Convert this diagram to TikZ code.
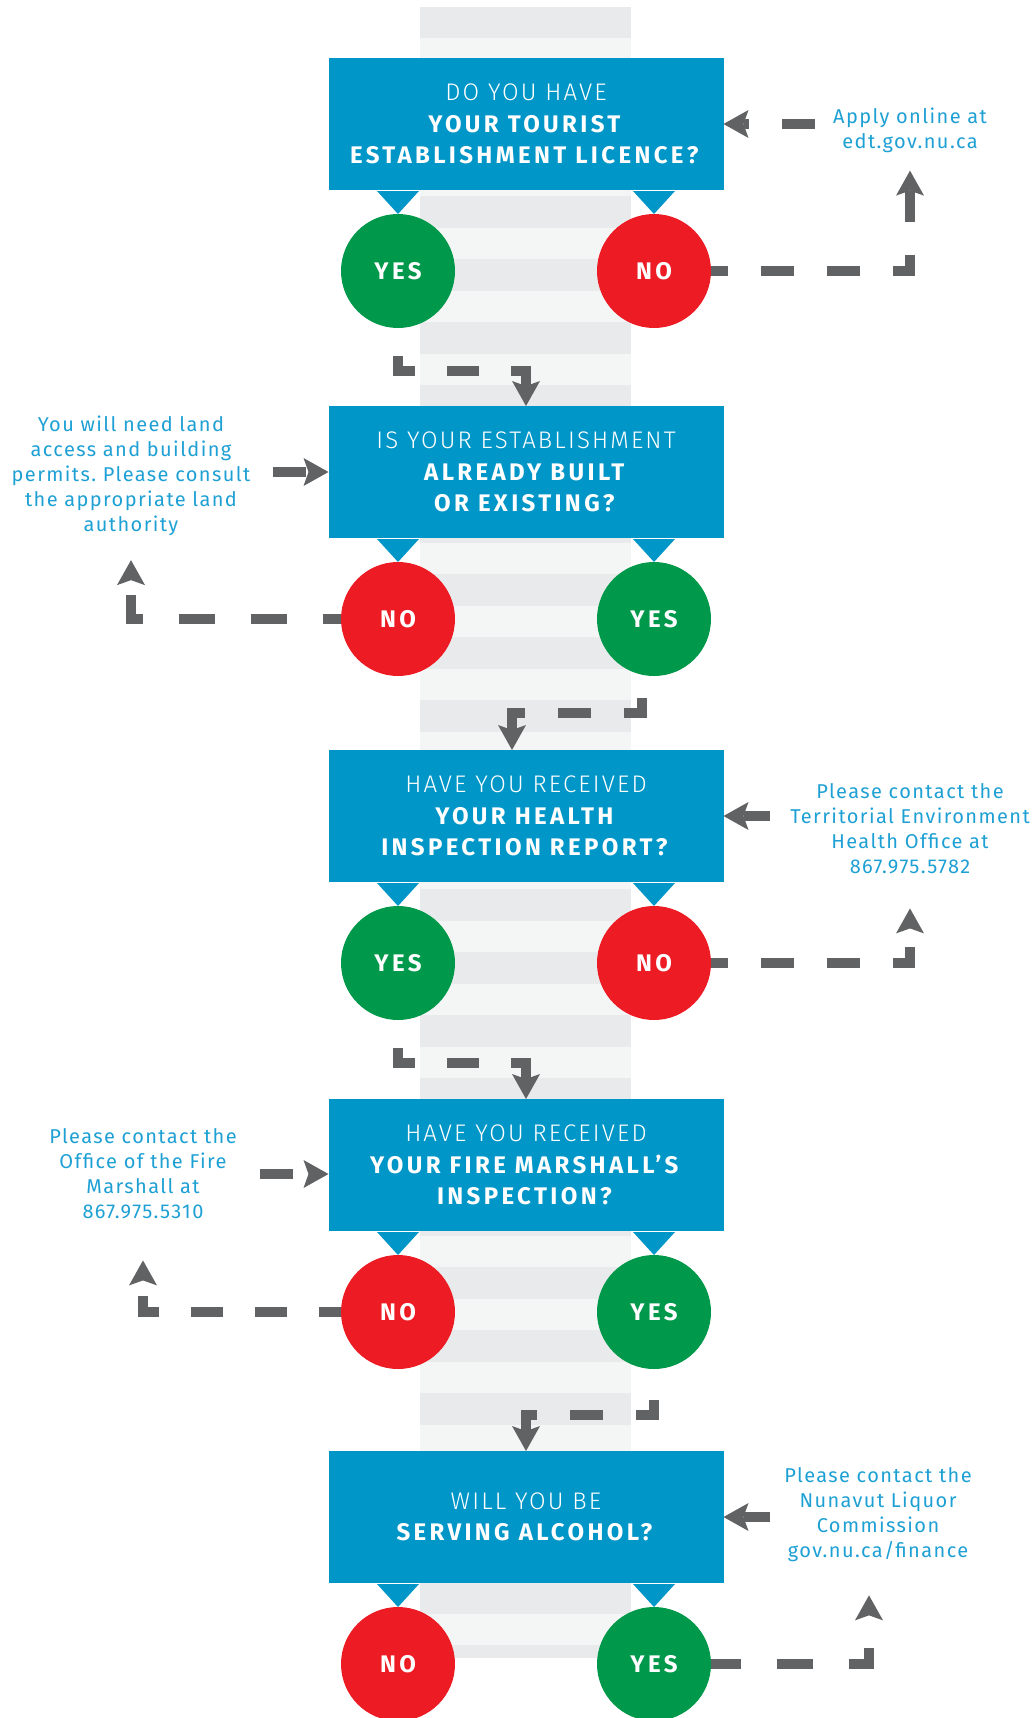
\documentclass[tikz,border=0pt]{standalone}
\usepackage{fontspec}
\setmainfont{Fira Sans}
\newfontfamily\notefont{Fira Sans}[LetterSpace=7]
\newfontfamily\headfont{Fira Sans}[LetterSpace=14]
\IfFontExistsTF{Fira Sans Light}
  {\newfontfamily\thinfont{Fira Sans Light}[LetterSpace=9]}
  {\newfontfamily\thinfont{Fira Sans}[LetterSpace=9]}
\frenchspacing
\usetikzlibrary{arrows.meta}
\definecolor{askblue}{RGB}{0,150,200}
\definecolor{yesgreen}{RGB}{0,152,74}
\definecolor{nored}{RGB}{237,28,36}
\definecolor{flowgrey}{RGB}{97,98,100}
\definecolor{noteblue}{RGB}{30,160,212}
\definecolor{stripdark}{RGB}{233,234,235}
\definecolor{striplight}{RGB}{244,245,245}
\tikzset{
  ask_/.style  = {shape=rectangle, fill=askblue, text=white, align=center,
                  minimum width=395pt, minimum height=132pt, inner sep=0pt, outer sep=0pt,
                  font=\headfont\fontsize{24}{31.5}\selectfont},
  yes_/.style  = {shape=circle, fill=yesgreen, text=white, minimum size=114pt, inner sep=0pt,
                  outer sep=0pt, font=\headfont\bfseries\fontsize{24}{30}\selectfont},
  no_/.style   = {yes_, fill=nored},
  note_/.style = {align=center, text=noteblue, inner sep=5pt,
                  font=\notefont\fontsize{20}{25}\selectfont},
  flow_/.style = {draw=flowgrey, line width=10pt, dash pattern=on #1pt off #1pt,
                  -{Stealth[length=25pt, width=28pt, inset=5pt, line width=0pt]}},
  flow_/.default = 33
}

\begin{document}
\begin{tikzpicture}
	[
	x = 1pt, y = -1pt,
	grow                    = down,
	sibling distance        = 256pt,
	level distance          = 147pt,
	edge from parent/.style = {draw=none}
	]
	\useasboundingbox (0,0) rectangle (1034,1718);
	\fill [striplight] (420,7) rectangle (631,1657);
	\begin{scope}
		\clip (420,7) rectangle (631,1657);
		\foreach \k in {0,...,26}
			\fill [stripdark] (420,7+63*\k) rectangle (631,38.5+63*\k);
	\end{scope}

	\node [ask_] (q1) at (526,124) {{\thinfont DO YOU HAVE}\\
		\textbf{YOUR TOURIST}\\ \textbf{ESTABLISHMENT LICENCE?}}
	child { node [yes_] (yes1) {YES} }
	child { node [no_] (no1) {NO} };
	\node [ask_] (q2) at (526,472) {{\thinfont IS YOUR ESTABLISHMENT}\\
		\textbf{ALREADY BUILT}\\ \textbf{OR EXISTING?}}
	child { node [no_] (no2) {NO} }
	child { node [yes_] (yes2) {YES} };
	\node [ask_] (q3) at (526,816) {{\thinfont HAVE YOU RECEIVED}\\
		\textbf{YOUR HEALTH}\\ \textbf{INSPECTION REPORT?}}
	child { node [yes_] (yes3) {YES} }
	child { node [no_] (no3) {NO} };
	\node [ask_] (q4) at (526,1165) {{\thinfont HAVE YOU RECEIVED}\\
		\textbf{YOUR FIRE MARSHALL’S}\\ \textbf{INSPECTION?}}
	child { node [no_] (no4) {NO} }
	child { node [yes_] (yes4) {YES} };
	\node [ask_] (q5) at (526,1517) {{\thinfont WILL YOU BE}\\
		\textbf{SERVING ALCOHOL?}}
	child { node [no_] (no5) {NO} }
	child { node [yes_] (yes5) {YES} };

	\foreach \c in {yes1,no1,no2,yes2,yes3,no3,no4,yes4,no5,yes5}
		\fill [askblue] (\c.north) -- ++(-21,-23) -- ++(42,0) -- cycle;

	\node [note_, text width=180pt] (note1) at (910,130) {Apply online at\\edt.gov.nu.ca};
	\node [note_, text width=274pt] (note2) at (131,476) {You will need land\\access and building\\permits. Please consult\\the appropriate land\\authority};
	\node [note_, text width=270pt] (note3) at (910,829) {Please contact the\\Territorial Environment\\Health Office at\\867.975.5782};
	\node [note_, text width=224pt] (note4) at (143,1174) {Please contact the\\Office of the Fire\\Marshall at\\867.975.5310};
	\node [note_, text width=206pt] (note5) at (878,1515) {Please contact the\\Nunavut Liquor\\Commission\\gov.nu.ca/finance};

	% stage 1
	\draw [flow_=33, dash phase=16pt] (no1.east) -| ([yshift=-13pt]note1.south);
	\draw [flow_=33] (note1.west |- q1.east) -- (q1.east);
	\draw [flow_=32, dash phase=36pt] (yes1.south) -- ++(0,43) -| (q2.north);
	% stage 2
	\draw [flow_=33] (note2.east |- q2.west) -- (q2.west);
	\draw [flow_=36, dash phase=18pt] (no2.west) -| ([yshift=-19pt]note2.south);
	\draw [flow_=33, dash phase=43pt] (yes2.-102) -- ++(0,38) -| ([xshift=-14pt]q3.north);
	% stage 3
	\draw [flow_=33] (note3.west |- q3.east) -- (q3.east);
	\draw [flow_=33, dash phase=16pt] (no3.east) -| ([yshift=-29pt]note3.south);
	\draw [flow_=32, dash phase=36pt] (yes3.south) -- ++(0,43) -| (q4.north);
	% stage 4
	\draw [flow_=33] (note4.east) -- (note4.east -| q4.west);
	\draw [flow_=32, dash phase=10pt] (no4.west) -| ([yshift=-36pt]note4.south);
	\draw [flow_=33, dash phase=35pt] (yes4.south) -- ++(0,46) -| (q5.north);
	% stage 5
	\draw [flow_=33] (note5.west |- q5.east) -- (q5.east);
	\draw [flow_=36, dash phase=6pt] (yes5.east) -| ([xshift=-9pt,yshift=-28pt]note5.south);
\end{tikzpicture}
\end{document}
